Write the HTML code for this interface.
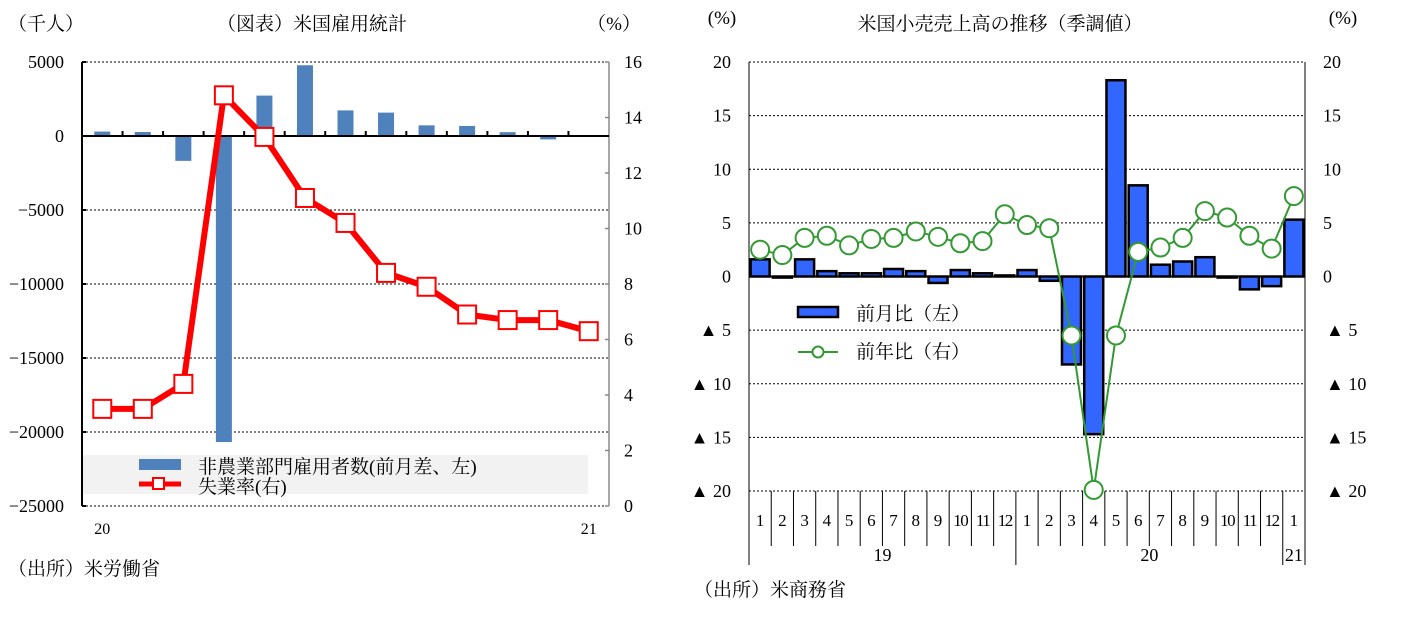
<!DOCTYPE html>
<html><head><meta charset="utf-8"><style>
body{margin:0;background:#fff;}
svg{display:block;font-family:"Liberation Serif","Noto Serif CJK SC","Noto Sans CJK JP",serif;}
</style></head><body>
<svg id="c" width="1404" height="622" viewBox="0 0 1404 622"></svg>
<script>
// Left chart data
const empMonths = ['2020-01','2020-02','2020-03','2020-04','2020-05','2020-06','2020-07','2020-08','2020-09','2020-10','2020-11','2020-12','2021-01'];
const payrolls = [300, 270, -1680, -20680, 2730, 4780, 1730, 1580, 720, 680, 260, -230, 50];
const unemp = [3.5, 3.5, 4.4, 14.8, 13.3, 11.1, 10.2, 8.4, 7.9, 6.9, 6.7, 6.7, 6.3];
const leftTicks = [5000, 0, -5000, -10000, -15000, -20000, -25000];
const rightTicks = [16, 14, 12, 10, 8, 6, 4, 2, 0];
// Right chart data
const retMonths = ['1','2','3','4','5','6','7','8','9','10','11','12','1','2','3','4','5','6','7','8','9','10','11','12','1'];
const mom = [1.6, -0.1, 1.6, 0.5, 0.3, 0.3, 0.7, 0.5, -0.6, 0.6, 0.3, 0.1, 0.6, -0.4, -8.2, -14.7, 18.3, 8.5, 1.1, 1.4, 1.8, -0.1, -1.2, -0.9, 5.3];
const yoy = [2.5, 2.0, 3.6, 3.8, 2.9, 3.5, 3.6, 4.2, 3.7, 3.1, 3.3, 5.8, 4.8, 4.5, -5.5, -19.9, -5.5, 2.3, 2.7, 3.6, 6.1, 5.5, 3.8, 2.6, 7.5];
const retTicks = [20, 15, 10, 5, 0, -5, -10, -15, -20];

const svg = document.getElementById('c');
const NS = 'http://www.w3.org/2000/svg';
function mk(tag, attrs, parent) {
  const e = document.createElementNS(NS, tag);
  for (const k in attrs) e.setAttribute(k, attrs[k]);
  (parent || svg).appendChild(e);
  return e;
}
function txt(x, y, s, anchor, size, parent) {
  const t = mk('text', {x: x, y: y, 'text-anchor': anchor || 'start', 'font-size': size || 18, fill: '#000'}, parent);
  t.textContent = s;
  return t;
}

// ===== Left chart =====
const L = {x0: 82, x1: 609, yTop: 62, yBot: 506};
const ly = v => L.yTop + (5000 - v) / 30000 * (L.yBot - L.yTop);
const ry = v => L.yBot - v / 16 * (L.yBot - L.yTop);
const slot = (L.x1 - L.x0) / empMonths.length;
const lx = i => L.x0 + slot * (i + 0.5);

const gL = mk('g', {});



let t = txt(8, 30, '（千人）', 'start', 19, gL);
 
t = txt(312, 30, '（図表）米国雇用統計', 'middle', 19, gL);
 
t = txt(614, 30, '（%）', 'middle', 19, gL);
 

leftTicks.forEach(v => {
  const y = ly(v);
  if (v !== 0) {
    const g = mk('line', {x1: L.x0, x2: L.x1, y1: y, y2: y, stroke: '#000', 'stroke-width': 1, 'stroke-dasharray': '2,2'}, gL);
     
  }
  mk('line', {x1: L.x0, x2: L.x0 + 4, y1: y, y2: y, stroke: '#000', 'stroke-width': 2}, gL);
  const tt = txt(L.x0 - 18, y + 6, v < 0 ? '−' + (-v) : String(v), 'end', 18, gL);
   
});
rightTicks.forEach(v => {
  const y = ry(v);
  mk('line', {x1: L.x1 - 4, x2: L.x1, y1: y, y2: y, stroke: '#888', 'stroke-width': 1.5}, gL);
  const tt = txt(L.x1 + 15, y + 6, String(v), 'start', 18, gL);
   
});
let lb = mk('rect', {x: 83, y: 455, width: 505, height: 39, fill: '#f2f2f2'}, gL);
 
payrolls.forEach((v, i) => {
  const y0 = ly(0), y1 = ly(v);
  const b = mk('rect', {x: lx(i) - 8, y: Math.min(y0, y1), width: 16, height: Math.abs(y1 - y0), fill: '#4f81bd'}, gL);
   
});
mk('line', {x1: L.x0, x2: L.x0, y1: L.yTop, y2: L.yBot, stroke: '#000', 'stroke-width': 2}, gL);
mk('line', {x1: L.x1, x2: L.x1, y1: L.yTop, y2: L.yBot, stroke: '#888', 'stroke-width': 1.5}, gL);
mk('line', {x1: L.x0, x2: L.x1, y1: ly(0), y2: ly(0), stroke: '#000', 'stroke-width': 2}, gL);
for (let i = 1; i < empMonths.length; i++) {
  mk('line', {x1: L.x0 + slot * i, x2: L.x0 + slot * i, y1: ly(0) - 5, y2: ly(0), stroke: '#000', 'stroke-width': 2}, gL);
}
const pts = unemp.map((v, i) => lx(i) + ',' + ry(v)).join(' ');
const pl = mk('polyline', {points: pts, fill: 'none', stroke: '#ff0000', 'stroke-width': 6, 'stroke-linejoin': 'round'}, gL);
 
unemp.forEach((v, i) => {
  const m = mk('rect', {x: lx(i) - 9, y: ry(v) - 9, width: 18, height: 18, fill: '#fff', stroke: '#ff0000', 'stroke-width': 2}, gL);
   
});
mk('rect', {x: 139, y: 459, width: 42, height: 11, fill: '#4f81bd'}, gL);
t = txt(198, 473, '非農業部門雇用者数(前月差、左)', 'start', 19, gL);
 
mk('line', {x1: 139, x2: 181, y1: 484, y2: 484, stroke: '#ff0000', 'stroke-width': 5}, gL);
mk('rect', {x: 153, y: 478, width: 11, height: 11, fill: '#fff', stroke: '#ff0000', 'stroke-width': 2}, gL);
t = txt(198, 493, '失業率(右)', 'start', 19, gL);
 
t = txt(lx(0), 534, '20', 'middle', 16, gL);
 
t = txt(lx(12), 534, '21', 'middle', 16, gL);
 
t = txt(8, 575, '（出所）米労働省', 'start', 19, gL);
 

// ===== Right chart =====
const R = {x0: 749, x1: 1305, yTop: 62, yBot: 491};
const yy = v => R.yTop + (20 - v) / 40 * (R.yBot - R.yTop);
const rs = (R.x1 - R.x0) / retMonths.length;
const rx = i => R.x0 + rs * (i + 0.5);
const gR = mk('g', {});



t = txt(1000, 30, '米国小売売上高の推移（季調値）', 'middle', 19, gR);
 
t = txt(722, 24, '(%)', 'middle', 19, gR);
 
t = txt(1343, 24, '(%)', 'middle', 19, gR);
 

retTicks.forEach(v => {
  const y = yy(v);
  if (v !== 0) {
    const g = mk('line', {x1: R.x0, x2: R.x1, y1: y, y2: y, stroke: '#000', 'stroke-width': 1, 'stroke-dasharray': '2,2'}, gR);
     
  }
  const lab = v < 0 ? '▲ ' + (-v) : String(v);
  let a = txt(731, y + 6, lab, 'end', 18, gR);
   
  a = txt(v < 0 ? 1326 : 1323, y + 6, lab, 'start', 18, gR);
   
});
mk('line', {x1: R.x0, x2: R.x0, y1: R.yTop, y2: 565, stroke: '#000', 'stroke-width': 1}, gR);
mk('line', {x1: R.x1, x2: R.x1, y1: R.yTop, y2: 565, stroke: '#000', 'stroke-width': 1}, gR);
for (let i = 1; i < retMonths.length; i++) {
  const x = R.x0 + rs * i;
  const yb = (i === 12 || i === 24) ? 565 : 546;
  mk('line', {x1: x, x2: x, y1: R.yBot, y2: yb, stroke: '#000', 'stroke-width': 1}, gR);
}
retMonths.forEach((m, i) => {
  const a = txt(rx(i), 526, m, 'middle', 17, gR);
   
  if (m.length > 1) a.setAttribute('letter-spacing', '-1.5');
});
[['19', 0, 12], ['20', 12, 24], ['21', 24, 25]].forEach(([s, a, b]) => {
  const e = txt(R.x0 + rs * (a + b) / 2, 561, s, 'middle', 18, gR);
   
});
mom.forEach((v, i) => {
  const y0 = yy(0), y1 = yy(v);
  const b = mk('rect', {x: rx(i) - 9.5, y: Math.min(y0, y1), width: 19, height: Math.max(Math.abs(y1 - y0), 1), fill: '#3366ff', stroke: '#000', 'stroke-width': 2.5}, gR);
   
});
mk('line', {x1: R.x0, x2: R.x1, y1: yy(0), y2: yy(0), stroke: '#000', 'stroke-width': 2}, gR);
const pts2 = yoy.map((v, i) => rx(i) + ',' + yy(v)).join(' ');
const pl2 = mk('polyline', {points: pts2, fill: 'none', stroke: '#339933', 'stroke-width': 2}, gR);
 
yoy.forEach((v, i) => {
  const c = mk('circle', {cx: rx(i), cy: yy(v), r: 9, fill: '#fff', stroke: '#339933', 'stroke-width': 2}, gR);
   
});
mk('rect', {x: 798, y: 307, width: 40, height: 10, fill: '#3366ff', stroke: '#000', 'stroke-width': 2.5}, gR);
t = txt(856, 320, '前月比（左）', 'start', 19, gR);
 
mk('line', {x1: 798, x2: 838, y1: 352, y2: 352, stroke: '#339933', 'stroke-width': 2}, gR);
mk('circle', {cx: 818, cy: 352, r: 5.5, fill: '#fff', stroke: '#339933', 'stroke-width': 2}, gR);
t = txt(856, 358, '前年比（右）', 'start', 19, gR);
 
t = txt(694, 596, '（出所）米商務省', 'start', 19, gR);
 
</script>
</body></html>
